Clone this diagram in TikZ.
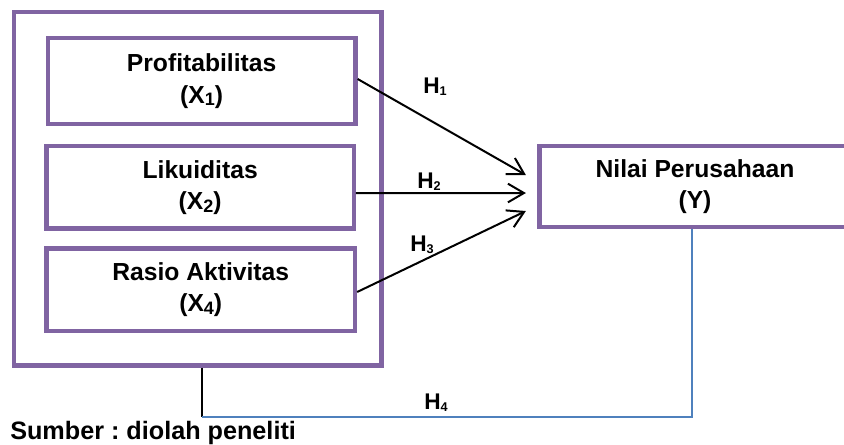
\documentclass[tikz,border=0pt]{standalone}
\usepackage{fontspec}
\setmainfont{Liberation Sans}
\usetikzlibrary{arrows.meta}
\definecolor{boxpurple}{HTML}{8064A2}
\definecolor{linkblue}{HTML}{4F81BD}
\newcommand\xsub[1]{\raisebox{-2pt}{\fontsize{13.5}{13.5}\selectfont #1}}
\newcommand\hsub[1]{\raisebox{-2pt}{\fontsize{9.5}{9.5}\selectfont #1}}
\tikzset{
  varbox/.style={draw=boxpurple, line width=3.2pt, rectangle, inner sep=0pt, align=center,
    font=\fontsize{18.5}{23.6}\selectfont\bfseries},
  hyp/.style={draw=black, line width=1.5pt, -{Straight Barb[length=12pt,width=14pt]}},
  hlabel/.style={inner sep=0pt, anchor=base west, font=\fontsize{17}{17}\selectfont\bfseries},
  srclabel/.style={inner sep=0pt, anchor=base west, font=\fontsize{18.9}{20}\selectfont\bfseries\frenchspacing},
}
\begin{document}
\begin{tikzpicture}[x=0.75pt,y=-0.75pt]
\useasboundingbox (0,0) rectangle (844,444);
\clip (0,0) rectangle (844,444);
% boxes
\node[varbox, minimum width=275.6pt, minimum height=265.1pt] (outer) at (197.75,188.75) {};
\node[varbox, minimum width=230.8pt, minimum height=64.1pt] (b1) at (201.65,81.05) {Profitabilitas\\(X\xsub{1})};
\node[varbox, minimum width=230.5pt, minimum height=61.7pt] (b2) at (200.15,187.4) {Likuiditas\\(X\xsub{2})};
\node[varbox, minimum width=231.4pt, minimum height=61.9pt] (b3) at (200.75,289.75) {Rasio Aktivitas\\(X\xsub{4})};
\node[varbox, minimum width=233.25pt, minimum height=60.7pt] (n) at (695,186.75) {Nilai Perusahaan\\(Y)};
% arrow targets
\coordinate (t1) at ([xshift=-8.6pt,yshift=8.8pt]n.west);
\coordinate (t2) at ([xshift=-8.6pt,yshift=-4.7pt]n.west);
\coordinate (t3) at ([xshift=-8.6pt,yshift=-18.2pt]n.west);
\coordinate (s1) at (0,79);
\coordinate (s2) at (0,193);
\coordinate (s3) at (0,292);
\draw[hyp] (b1.east |- s1) -- (t1);
\draw[hyp] (b2.east |- s2) -- (t2);
\draw[hyp] (b3.east |- s3) -- (t3);
% H4 link
\coordinate (c1) at (202.3,417);
\coordinate (c2) at (692.3,417);
\draw[black, line width=1.5pt] (outer.south -| c1) -- (c1);
\draw[linkblue, line width=1.5pt] (c1) -- (c2) -- (n.south -| c2);
% labels
\node[hlabel] (h1) at (423,93) {H\hsub{1}};
\node[hlabel] (h2) at (417,188) {H\hsub{2}};
\node[hlabel] (h3) at (410,251) {H\hsub{3}};
\node[hlabel] (h4) at (424,409) {H\hsub{4}};
\node[srclabel] (src) at (10,439) {Sumber : diolah peneliti};
\end{tikzpicture}
\end{document}
